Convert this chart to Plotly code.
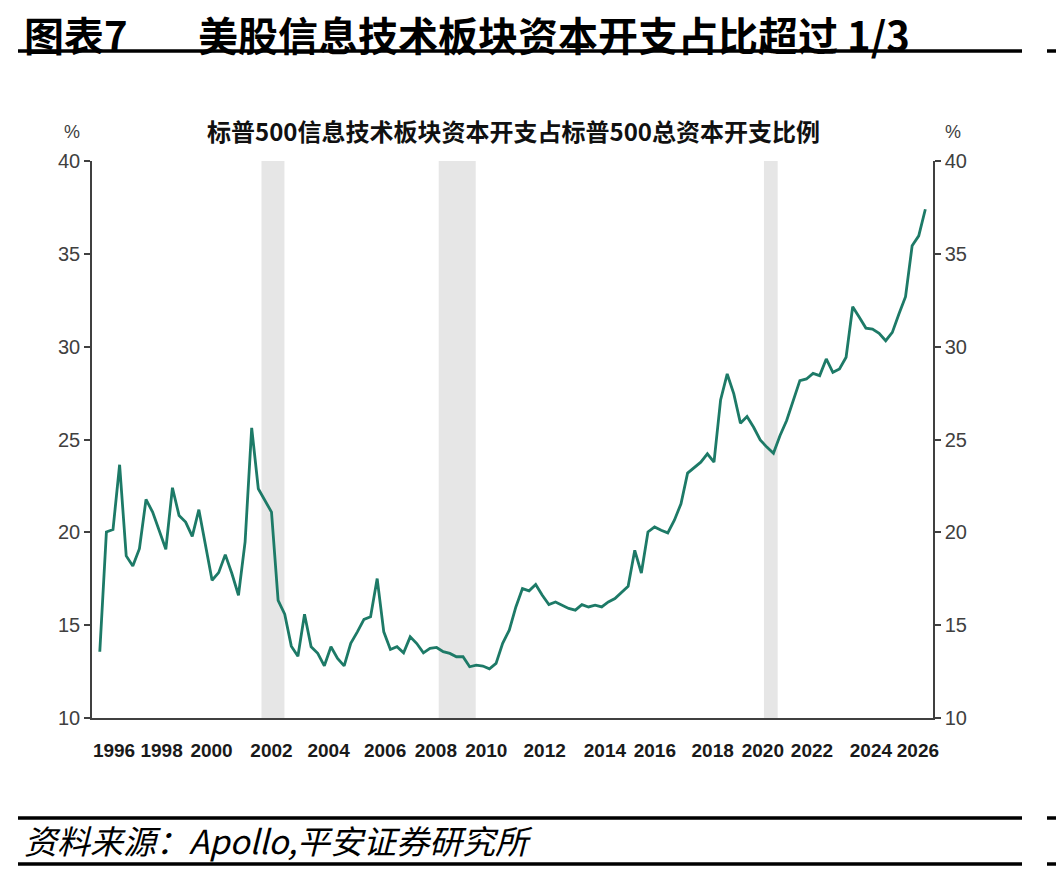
import plotly.graph_objects as go

# ---------------- data ----------------
start_year = 1995.0          # first quarter of the series (quarterly data)
values = [13.57, 20.02, 20.15, 23.64, 18.73, 18.19, 19.12, 21.77, 21.09, 20.14,
          19.09, 22.40, 20.91, 20.55, 19.78, 21.22, 19.30, 17.42, 17.83, 18.80,
          17.78, 16.61, 19.48, 25.63, 22.35, 21.72, 21.09, 16.34, 15.59, 13.87,
          13.33, 15.59, 13.84, 13.48, 12.81, 13.84, 13.21, 12.81, 14.02, 14.64,
          15.31, 15.45, 17.51, 14.64, 13.69, 13.84, 13.51, 14.37, 14.01, 13.51,
          13.75, 13.80, 13.57, 13.48, 13.30, 13.30, 12.76, 12.85, 12.80, 12.65,
          12.94, 14.02, 14.73, 15.98, 16.97, 16.85, 17.19, 16.61, 16.11, 16.25,
          16.08, 15.90, 15.81, 16.11, 15.98, 16.08, 15.98, 16.25, 16.43, 16.79,
          17.10, 19.03, 17.81, 20.02, 20.29, 20.11, 19.97, 20.65, 21.54, 23.19,
          23.48, 23.78, 24.23, 23.78, 27.13, 28.53, 27.46, 25.88, 26.24, 25.66,
          24.98, 24.59, 24.26, 25.22, 26.02, 27.10, 28.17, 28.26, 28.56, 28.44,
          29.34, 28.62, 28.80, 29.43, 32.15, 31.58, 31.00, 30.95, 30.72, 30.32,
          30.77, 31.76, 32.69, 35.43, 35.97, 37.40]
x_years = [start_year + 0.25 * i for i in range(len(values))]

tick_labels = ["1996", "1998", "2000", "2002", "2004", "2006", "2008", "2010",
               "2012", "2014", "2016", "2018", "2020", "2022", "2024", "2026"]
tick_pos = [1995.54, 1997.34, 1999.23, 2001.50, 2003.66, 2005.80, 2007.72, 2009.63,
            2011.84, 2014.12, 2016.01, 2018.20, 2020.10, 2021.96, 2024.19, 2025.97]

recession_start = [2001.12, 2007.83, 2020.14]
recession_end = [2001.99, 2009.23, 2020.66]

header_no = "图表7"
header_title = "美股信息技术板块资本开支占比超过 1/3"
chart_title = "标普500信息技术板块资本开支占标普500总资本开支比例"
source_text = "资料来源：Apollo,平安证券研究所"

# ---------------- layout helpers ----------------
W, H = 1056, 874
ML, MR, MT, MB = 92, 123, 161, 156
PW, PH = W - ML - MR, H - MT - MB


def px(x):
    return (x - ML) / PW


def py(y):
    return 1 - (y - MT) / PH


CJK = "Noto Sans CJK SC"
SANS = "Liberation Sans, Arial, sans-serif"
LINE_COLOR = "#1D7A67"
AXIS_COLOR = "#404040"

fig = go.Figure()
fig.add_trace(go.Scatter(x=x_years, y=values, mode="lines",
                         line=dict(color=LINE_COLOR, width=2.8),
                         showlegend=False, hoverinfo="x+y"))
# twin trace so that the right-hand axis is drawn
fig.add_trace(go.Scatter(x=x_years, y=values, mode="lines", yaxis="y2",
                         line=dict(color="rgba(0,0,0,0)", width=0),
                         showlegend=False, hoverinfo="skip"))

shapes = []
for s, e in zip(recession_start, recession_end):
    shapes.append(dict(type="rect", xref="x", yref="y", x0=s, x1=e, y0=10, y1=40,
                       fillcolor="#E6E6E6", line=dict(width=0), layer="below"))

# page rules (header / footer)
for yy in (51, 818, 864):
    shapes.append(dict(type="line", xref="paper", yref="paper",
                       x0=px(18), x1=px(1022), y0=py(yy), y1=py(yy),
                       line=dict(color="black", width=3.5)))
    shapes.append(dict(type="line", xref="paper", yref="paper",
                       x0=px(1047), x1=px(1056), y0=py(yy), y1=py(yy),
                       line=dict(color="black", width=3.5)))

annotations = [
    dict(text=header_no, x=px(22), y=py(3), xref="paper", yref="paper",
         xanchor="left", yanchor="top", showarrow=False,
         font=dict(family=CJK, size=40, color="black", weight="bold")),
    dict(text=header_title, x=px(196), y=py(3), xref="paper", yref="paper",
         xanchor="left", yanchor="top", showarrow=False,
         font=dict(family=CJK, size=40, color="black", weight="bold")),
    dict(text=chart_title, x=px(513), y=py(130), xref="paper", yref="paper",
         xanchor="center", yanchor="middle", showarrow=False,
         font=dict(family=CJK, size=24, color="#111111", weight="bold")),
    dict(text="%", x=px(72), y=py(132), xref="paper", yref="paper",
         xanchor="center", yanchor="middle", showarrow=False,
         font=dict(family=SANS, size=18, color=AXIS_COLOR)),
    dict(text="%", x=px(953), y=py(132), xref="paper", yref="paper",
         xanchor="center", yanchor="middle", showarrow=False,
         font=dict(family=SANS, size=18, color=AXIS_COLOR)),
    dict(text="<i>" + source_text + "</i>", x=px(22), y=py(840), xref="paper", yref="paper",
         xanchor="left", yanchor="middle", showarrow=False,
         font=dict(family=CJK, size=33, color="black")),
]

yaxis_common = dict(range=[10, 40], tick0=10, dtick=5, ticks="outside", ticklen=6,
                    tickwidth=1.5, tickcolor=AXIS_COLOR, showline=True,
                    linecolor=AXIS_COLOR, linewidth=1.5, showgrid=False,
                    zeroline=False, fixedrange=True,
                    tickfont=dict(family=SANS, size=20, color=AXIS_COLOR))

fig.update_layout(
    width=W, height=H,
    margin=dict(l=ML, r=MR, t=MT, b=MB, pad=0),
    paper_bgcolor="white", plot_bgcolor="white",
    showlegend=False,
    xaxis=dict(range=[1994.705, 2026.54], tickmode="array", tickvals=tick_pos,
               ticktext=tick_labels, tickangle=0, ticks="outside", ticklen=14,
               tickcolor="rgba(0,0,0,0)", showline=True, linecolor=AXIS_COLOR,
               linewidth=1.5, showgrid=False, zeroline=False,
               tickfont=dict(family=SANS, size=19, color="#1A1A1A", weight="bold")),
    yaxis=dict(side="left", **yaxis_common),
    yaxis2=dict(side="right", overlaying="y", **yaxis_common),
    shapes=shapes,
    annotations=annotations,
)

fig.write_html("out.html")
